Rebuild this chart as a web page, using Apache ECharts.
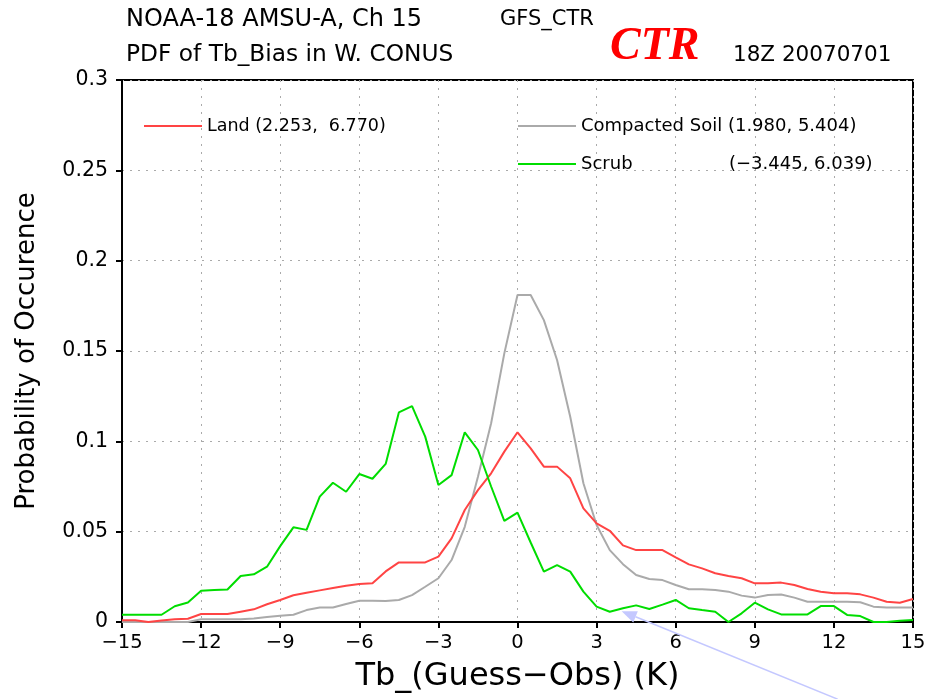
<!DOCTYPE html>
<html><head><meta charset="utf-8">
<script src="https://cdn.jsdelivr.net/npm/echarts@6/dist/echarts.min.js"></script>
<style>html,body{margin:0;padding:0;background:#fff}#c{width:929px;height:699px}</style>
</head><body><div id="c"></div>
<script>
const bins = [-15,-14.5,-14,-13.5,-13,-12.5,-12,-11.5,-11,-10.5,-10,-9.5,-9,-8.5,-8,-7.5,-7,-6.5,-6,-5.5,-5,-4.5,-4,-3.5,-3,-2.5,-2,-1.5,-1,-0.5,
  0,0.5,1,1.5,2,2.5,3,3.5,4,4.5,5,5.5,6,6.5,7,7.5,8,8.5,9,9.5,10,10.5,11,11.5,12,12.5,13,13.5,14,14.5,15];
const land = [0.001,0.001,0,0.0008,0.0015,0.0018,0.0044,0.0044,0.0044,0.0057,0.007,0.0098,0.0122,0.0148,0.0162,0.0175,0.0188,0.0201,0.021,0.0214,0.028,0.033,0.033,0.033,0.0362,0.0463,0.062,0.073,0.0823,0.0943,
  0.105,0.0961,0.086,0.086,0.0795,0.0629,0.0546,0.0505,0.0424,0.0398,0.0398,0.0398,0.0358,0.0319,0.0297,0.027,0.0255,0.0242,0.0214,0.0214,0.0218,0.0205,0.0183,0.0168,0.0159,0.0159,0.0153,0.0135,0.0112,0.0107,0.0127];
const soil = [0,0,0,0,0,0,0.0015,0.0015,0.0015,0.0015,0.002,0.0028,0.0035,0.004,0.0066,0.008,0.008,0.01,0.0118,0.0118,0.0116,0.0122,0.0149,0.0195,0.0242,0.0343,0.0527,0.0804,0.11,0.1487,
  0.181,0.181,0.1671,0.145,0.1136,0.0768,0.0537,0.0398,0.032,0.026,0.0238,0.0232,0.0205,0.0181,0.0181,0.0177,0.0168,0.0146,0.0135,0.015,0.0152,0.0135,0.0112,0.0112,0.0112,0.0112,0.0109,0.0085,0.008,0.008,0.008];
const scrub = [0.004,0.004,0.004,0.004,0.0087,0.0108,0.0173,0.0177,0.018,0.0255,0.0264,0.0306,0.042,0.0524,0.051,0.0694,0.0771,0.0721,0.0819,0.0793,0.0875,0.116,0.1195,0.1026,0.0758,0.0813,0.105,0.0952,0.075,0.056,
  0.0605,0.044,0.0279,0.0315,0.0279,0.0168,0.0085,0.0057,0.0076,0.0092,0.0072,0.0096,0.0122,0.0076,0.0066,0.0057,0,0.0048,0.0107,0.007,0.0042,0.0042,0.0042,0.0088,0.0088,0.0039,0.0033,0,0,0.0007,0.0011];
const names = ['Land (2.253,  6.770)', 'Compacted Soil (1.980, 5.404)', 'Scrub'];
const scrubStats = '(\u22123.445, 6.039)';
const arrowTip = [3.95, 0.006];

const F = 'DejaVu Sans';
const chart = echarts.init(document.getElementById('c'), null, {renderer:'canvas'});
const pair = (ys) => bins.map((x,i)=>[x, ys[i]]);
const minus = v => (v < 0 ? '\u2212' + Math.abs(v) : String(v));
const legendBase = {orient:'horizontal', itemWidth:58, itemHeight:2, icon:'rect', itemGap:0, selectedMode:false,
  textStyle:{fontFamily:F, fontSize:18, color:'#000', padding:[0,0,0,0]}};
chart.setOption({
  animation:false,
  backgroundColor:'#fff',
  title:[
    {text:'NOAA-18 AMSU-A, Ch 15', left:121, top:3, textStyle:{fontFamily:F, fontSize:24, fontWeight:'normal', color:'#000'}},
    {text:'GFS_CTR', left:495, top:4, textStyle:{fontFamily:F, fontSize:21, fontWeight:'normal', color:'#000'}},
    {text:'PDF of Tb_Bias in W. CONUS', left:121, top:38, textStyle:{fontFamily:F, fontSize:23.3, fontWeight:'normal', color:'#000'}},
    {text:'CTR', left:605, top:19, textStyle:{fontFamily:'Liberation Serif', fontSize:46, fontWeight:'bold', fontStyle:'italic', color:'#ff0000'}},
    {text:'18Z 20070701', left:728, top:39, textStyle:{fontFamily:F, fontSize:21.5, fontWeight:'normal', color:'#000'}}
  ],
  legend:[
    Object.assign({}, legendBase, {data:[names[0]], left:139, top:112, textStyle:{fontFamily:F, fontSize:17.5, color:'#000'}}),
    Object.assign({}, legendBase, {data:[names[1]], left:513, top:112}),
    Object.assign({}, legendBase, {data:[names[2]], left:513, top:150,
      formatter: n => '{a|' + n + '}{b|' + scrubStats + '}',
      textStyle:{fontFamily:F, fontSize:18, color:'#000', padding:[0,0,0,0],
        rich:{a:{fontFamily:F, fontSize:18, width:148}, b:{fontFamily:F, fontSize:18}}}})
  ],
  grid:{left:122, right:16, top:80, bottom:77, show:true, borderColor:'#000', borderWidth:2, backgroundColor:'transparent', outerBoundsMode:'none', containLabel:false},
  xAxis:{type:'value', min:-15, max:15, interval:3,
    name:'Tb_(Guess\u2212Obs) (K)', nameLocation:'middle', nameGap:39,
    nameTextStyle:{fontFamily:F, fontSize:32, color:'#000'},
    axisLine:{onZero:false, lineStyle:{color:'#000', width:2}},
    axisTick:{show:true, length:6, lineStyle:{color:'#000', width:2}},
    axisLabel:{fontFamily:F, fontSize:19.5, color:'#000', margin:11, formatter:minus},
    splitLine:{show:true, lineStyle:{color:'#aaa', width:1, type:[2,6]}}},
  yAxis:{type:'value', min:0, max:0.3, interval:0.05,
    name:'Probability of Occurence', nameLocation:'middle', nameGap:82, nameRotate:90,
    nameTextStyle:{fontFamily:F, fontSize:26, color:'#000'},
    axisLine:{show:true, onZero:false, lineStyle:{color:'#000', width:2}},
    axisTick:{show:true, length:6, lineStyle:{color:'#000', width:2}},
    axisLabel:{fontFamily:F, fontSize:20.5, color:'#000', margin:14},
    splitLine:{show:true, lineStyle:{color:'#aaa', width:1, type:[2,6]}}},
  series:[
    {name:names[1], type:'line', data:pair(soil), showSymbol:false, symbol:'none', lineStyle:{color:'#aaaaaa', width:2}, itemStyle:{color:'#aaaaaa'}, clip:true, z:2},
    {name:names[0], type:'line', data:pair(land), showSymbol:false, symbol:'none', lineStyle:{color:'#ff4444', width:2}, itemStyle:{color:'#ff4444'}, clip:true, z:3},
    {name:names[2], type:'line', data:pair(scrub), showSymbol:false, symbol:'none', lineStyle:{color:'#00dd00', width:2}, itemStyle:{color:'#00dd00'}, clip:true, z:4}
  ]
});
// annotation arrow anchored to data coordinates
const tip = chart.convertToPixel({gridIndex:0}, arrowTip);
const dx = 216, dy = 88, len = Math.hypot(dx, dy), ux = dx/len, uy = dy/len;
const hl = 15, hw = 6;
const bx = tip[0] + ux*hl, by = tip[1] + uy*hl;
chart.setOption({graphic:[
  {type:'line', shape:{x1:bx, y1:by, x2:tip[0]+dx, y2:tip[1]+dy}, style:{stroke:'#c4c8ff', lineWidth:1.5}, z:10},
  {type:'polygon', shape:{points:[[tip[0],tip[1]],[bx - uy*hw, by + ux*hw],[bx + uy*hw, by - ux*hw]]}, style:{fill:'#c4c8ff'}, z:10}
]});
</script></body></html>
